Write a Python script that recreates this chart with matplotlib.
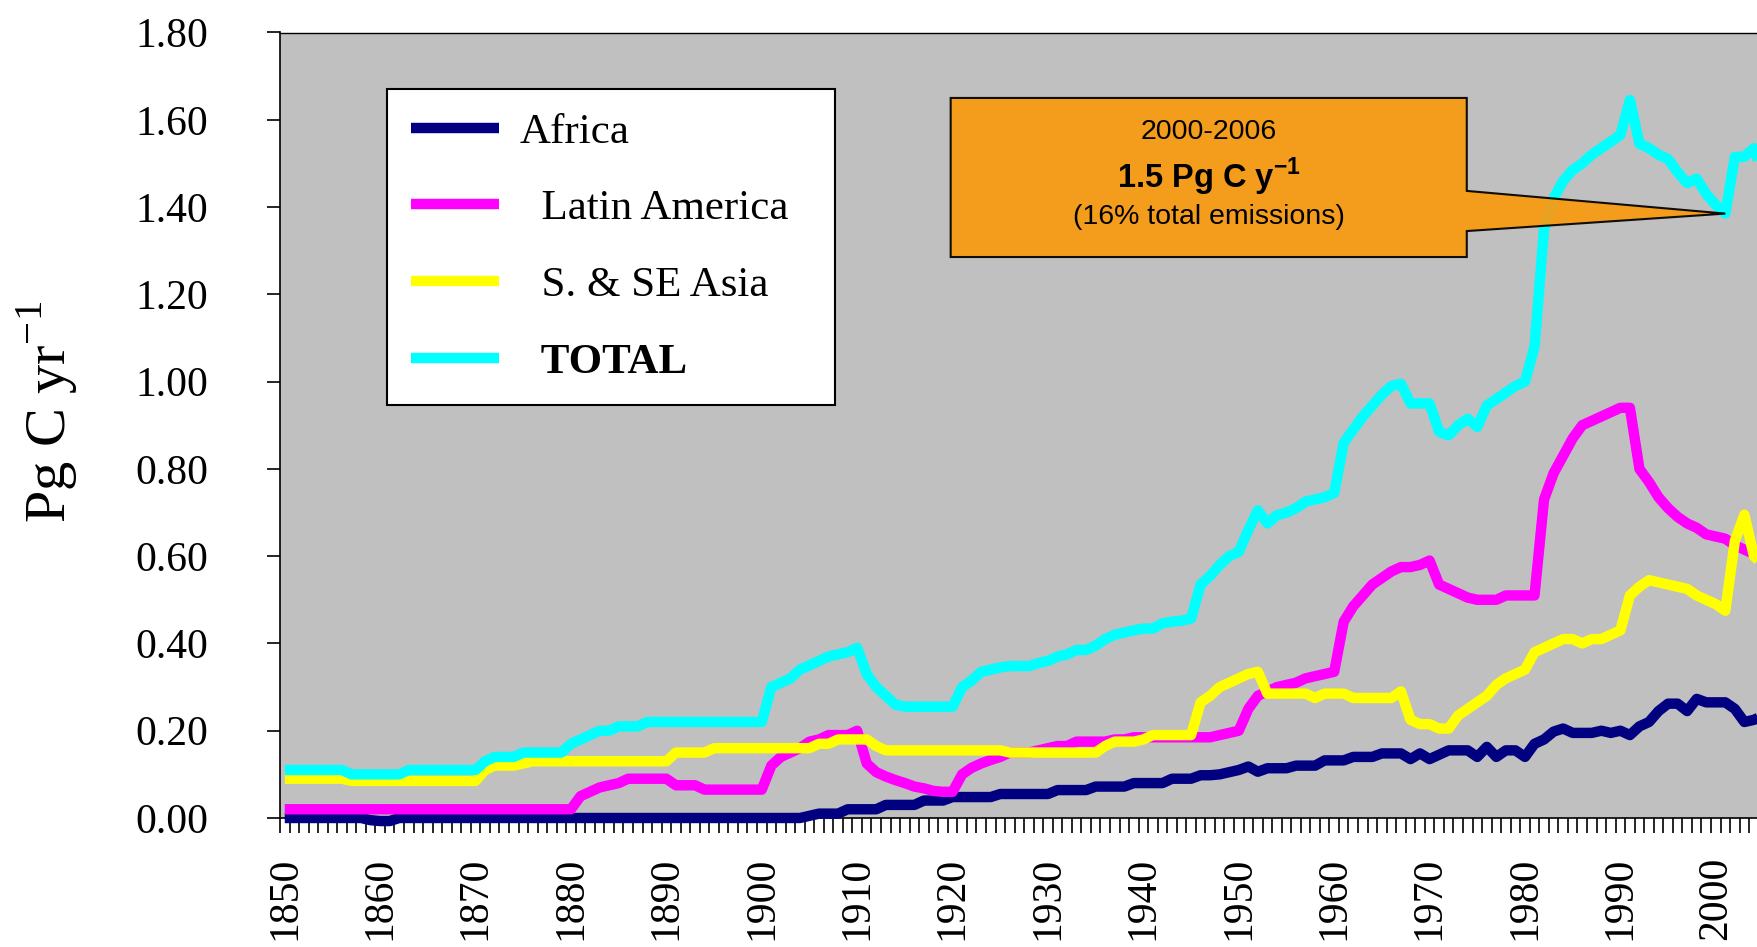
import numpy as np
import matplotlib
matplotlib.use('Agg')
import matplotlib.pyplot as plt
from matplotlib.patches import Polygon

#==============================================================================================
# Data (Pg C / yr, land use change emissions by region) =======================================
#==============================================================================================

years = list(range(1850, 2006))

africa = [
    0, 0, 0, 0, 0, 0, 0, 0, 0, -0.005,                                          # 1850
    -0.007, -0.007, 0, 0, 0, 0, 0, 0, 0, 0,                                     # 1860
    0, 0, 0, 0, 0, 0, 0, 0, 0, 0,                                               # 1870
    0, 0, 0, 0, 0, 0, 0, 0, 0, 0,                                               # 1880
    0, 0, 0, 0, 0, 0, 0, 0, 0, 0,                                               # 1890
    0, 0, 0, 0, 0, 0.005, 0.01, 0.01, 0.01, 0.02,                               # 1900
    0.02, 0.02, 0.02, 0.03, 0.03, 0.03, 0.03, 0.04, 0.04, 0.04,                 # 1910
    0.048, 0.048, 0.048, 0.048, 0.048, 0.055, 0.055, 0.055, 0.055, 0.055,       # 1920
    0.055, 0.064, 0.064, 0.064, 0.064, 0.072, 0.072, 0.072, 0.072, 0.08,        # 1930
    0.08, 0.08, 0.08, 0.09, 0.09, 0.09, 0.098, 0.098, 0.10, 0.105,              # 1940
    0.11, 0.118, 0.106, 0.114, 0.114, 0.114, 0.12, 0.12, 0.12, 0.132,           # 1950
    0.132, 0.132, 0.14, 0.14, 0.14, 0.148, 0.148, 0.148, 0.135, 0.148,          # 1960
    0.135, 0.145, 0.155, 0.155, 0.155, 0.14, 0.163, 0.14, 0.155, 0.155,         # 1970
    0.14, 0.17, 0.18, 0.198, 0.205, 0.195, 0.195, 0.195, 0.20, 0.195,           # 1980
    0.20, 0.19, 0.21, 0.22, 0.245, 0.262, 0.262, 0.245, 0.273, 0.265,           # 1990
    0.265, 0.265, 0.25, 0.22, 0.225, 0.235,                                     # 2000
]

latin_america = [
    0.02, 0.02, 0.02, 0.02, 0.02, 0.02, 0.02, 0.02, 0.02, 0.02,                 # 1850
    0.02, 0.02, 0.02, 0.02, 0.02, 0.02, 0.02, 0.02, 0.02, 0.02,                 # 1860
    0.02, 0.02, 0.02, 0.02, 0.02, 0.02, 0.02, 0.02, 0.02, 0.02,                 # 1870
    0.02, 0.05, 0.06, 0.07, 0.075, 0.08, 0.09, 0.09, 0.09, 0.09,                # 1880
    0.09, 0.075, 0.075, 0.075, 0.065, 0.065, 0.065, 0.065, 0.065, 0.065,        # 1890
    0.065, 0.12, 0.14, 0.15, 0.16, 0.175, 0.18, 0.19, 0.19, 0.19,               # 1900
    0.20, 0.125, 0.105, 0.095, 0.087, 0.08, 0.072, 0.068, 0.062, 0.06,          # 1910
    0.06, 0.10, 0.115, 0.125, 0.133, 0.14, 0.15, 0.15, 0.15, 0.155,             # 1920
    0.16, 0.165, 0.165, 0.175, 0.175, 0.175, 0.175, 0.18, 0.18, 0.185,          # 1930
    0.185, 0.185, 0.185, 0.185, 0.185, 0.185, 0.185, 0.185, 0.19, 0.195,        # 1940
    0.20, 0.25, 0.28, 0.29, 0.30, 0.305, 0.31, 0.32, 0.325, 0.33,               # 1950
    0.335, 0.45, 0.485, 0.51, 0.535, 0.55, 0.565, 0.575, 0.575, 0.58,           # 1960
    0.59, 0.535, 0.525, 0.515, 0.505, 0.50, 0.50, 0.50, 0.51, 0.51,            # 1970
    0.51, 0.51, 0.73, 0.79, 0.83, 0.87, 0.90, 0.91, 0.92, 0.93,                 # 1980
    0.94, 0.94, 0.80, 0.77, 0.735, 0.71, 0.69, 0.675, 0.665, 0.65,              # 1990
    0.645, 0.64, 0.625, 0.615, 0.605, 0.60,                                     # 2000
]

se_asia = [
    0.09, 0.09, 0.09, 0.09, 0.09, 0.09, 0.09, 0.085, 0.085, 0.085,              # 1850
    0.085, 0.085, 0.085, 0.085, 0.085, 0.085, 0.085, 0.085, 0.085, 0.085,       # 1860
    0.085, 0.11, 0.12, 0.12, 0.12, 0.125, 0.13, 0.13, 0.13, 0.13,               # 1870
    0.13, 0.13, 0.13, 0.13, 0.13, 0.13, 0.13, 0.13, 0.13, 0.13,                 # 1880
    0.13, 0.15, 0.15, 0.15, 0.15, 0.16, 0.16, 0.16, 0.16, 0.16,                 # 1890
    0.16, 0.16, 0.16, 0.16, 0.16, 0.16, 0.17, 0.17, 0.18, 0.18,                 # 1900
    0.18, 0.18, 0.165, 0.155, 0.155, 0.155, 0.155, 0.155, 0.155, 0.155,         # 1910
    0.155, 0.155, 0.155, 0.155, 0.155, 0.155, 0.15, 0.15, 0.15, 0.15,           # 1920
    0.15, 0.15, 0.15, 0.15, 0.15, 0.15, 0.165, 0.175, 0.175, 0.175,             # 1930
    0.18, 0.19, 0.19, 0.19, 0.19, 0.19, 0.265, 0.28, 0.30, 0.31,                # 1940
    0.32, 0.33, 0.335, 0.285, 0.285, 0.285, 0.285, 0.285, 0.275, 0.285,         # 1950
    0.285, 0.285, 0.275, 0.275, 0.275, 0.275, 0.275, 0.29, 0.225, 0.215,        # 1960
    0.215, 0.205, 0.205, 0.235, 0.25, 0.265, 0.28, 0.305, 0.32, 0.33,           # 1970
    0.34, 0.38, 0.39, 0.40, 0.41, 0.41, 0.40, 0.41, 0.41, 0.42,                 # 1980
    0.43, 0.51, 0.53, 0.545, 0.54, 0.535, 0.53, 0.525, 0.51, 0.50,              # 1990
    0.49, 0.475, 0.635, 0.695, 0.60, 0.58,                                      # 2000
]

total = [
    0.11, 0.11, 0.11, 0.11, 0.11, 0.11, 0.11, 0.10, 0.10, 0.10,                 # 1850
    0.10, 0.10, 0.10, 0.11, 0.11, 0.11, 0.11, 0.11, 0.11, 0.11,                 # 1860
    0.11, 0.13, 0.14, 0.14, 0.14, 0.15, 0.15, 0.15, 0.15, 0.15,                 # 1870
    0.17, 0.18, 0.19, 0.20, 0.20, 0.21, 0.21, 0.21, 0.22, 0.22,                 # 1880
    0.22, 0.22, 0.22, 0.22, 0.22, 0.22, 0.22, 0.22, 0.22, 0.22,                 # 1890
    0.22, 0.30, 0.31, 0.32, 0.34, 0.35, 0.36, 0.37, 0.375, 0.38,                # 1900
    0.39, 0.33, 0.30, 0.28, 0.26, 0.255, 0.255, 0.255, 0.255, 0.255,            # 1910
    0.255, 0.30, 0.315, 0.335, 0.34, 0.345, 0.348, 0.348, 0.348, 0.355,        # 1920
    0.36, 0.37, 0.375, 0.385, 0.385, 0.395, 0.41, 0.42, 0.425, 0.43,            # 1930
    0.434, 0.434, 0.446, 0.45, 0.452, 0.457, 0.535, 0.555, 0.58, 0.60,          # 1940
    0.61, 0.66, 0.705, 0.675, 0.694, 0.70, 0.71, 0.725, 0.73, 0.735,            # 1950
    0.745, 0.86, 0.89, 0.92, 0.945, 0.97, 0.99, 0.995, 0.95, 0.95,              # 1960
    0.95, 0.885, 0.877, 0.90, 0.915, 0.896, 0.945, 0.96, 0.975, 0.99,           # 1970
    1.00, 1.08, 1.35, 1.42, 1.46, 1.485, 1.50, 1.52, 1.535, 1.55,               # 1980
    1.565, 1.645, 1.545, 1.535, 1.52, 1.51, 1.48, 1.455, 1.465, 1.43,           # 1990
    1.405, 1.385, 1.515, 1.515, 1.535, 1.47,                                    # 2000
]

series_names = ['Africa', '  Latin America', '  S. & SE Asia', '  TOTAL']
series_colors = ['#000080', '#FF00FF', '#FFFF00', '#00FFFF']

decades = list(range(1850, 2001, 10))
y_ticks = [0.0, 0.2, 0.4, 0.6, 0.8, 1.0, 1.2, 1.4, 1.6, 1.8]

callout_year = 2001

#==============================================================================================
# Figure ======================================================================================
#==============================================================================================

plt.rcParams['font.family'] = ['Liberation Serif', 'DejaVu Serif']
narrow = ['Liberation Sans Narrow', 'Liberation Sans', 'DejaVu Sans']

W, H = 1758, 947
fig = plt.figure(figsize=(W / 100, H / 100), dpi=100)

# axes placed in pixels, the right part runs off the picture like the original
px_per_year = 9.54
x_left, x_right = 1849.5, 2006.5
ax = fig.add_axes([280 / W, (H - 818) / H, (x_right - x_left) * px_per_year / W, (818 - 32.5) / H])
ax.set_facecolor('#C0C0C0')

all_series = [africa, latin_america, se_asia, total]
for vals, col, name in zip(all_series, series_colors, series_names):
    ax.plot(years, vals, color=col, lw=7.5, label=name, clip_on=False, zorder=3,
            solid_joinstyle='round', solid_capstyle='butt')

ax.set_xlim(x_left, x_right)
ax.set_ylim(0, 1.8)

# one tick per year between categories, decade labels as minor ticks
ax.set_xticks(np.arange(x_left, x_right, 1.0))
ax.set_xticklabels([])
ax.set_xticks(decades, minor=True)
ax.set_xticklabels([str(d) for d in decades], minor=True)
ax.tick_params(axis='x', which='major', length=11, width=1.2, direction='out', color='black')
ax.tick_params(axis='x', which='minor', length=0, pad=28, labelsize=30, labelrotation=90)

ax.set_yticks(y_ticks)
ax.set_yticklabels(['%.2f' % v for v in y_ticks])
ax.tick_params(axis='y', length=9.4, width=1.2, direction='out', pad=42, labelsize=30)

for side in ['left', 'bottom']:
    ax.spines[side].set_linewidth(1.2)
ax.spines['top'].set_linewidth(1.0)
ax.spines['right'].set_visible(False)

fig.text(47 / W, 1 - 412 / H, 'Pg C yr$^{\\mathregular{-1}}$', rotation=90,
         fontsize=42, ha='center', va='center')

#==============================================================================================
# Legend ======================================================================================
#==============================================================================================

leg = ax.legend(loc='upper left', bbox_to_anchor=(387 / W, (H - 398) / H, 448 / W, 309 / H),
                bbox_transform=fig.transFigure, mode='expand', borderaxespad=0,
                fontsize=31, handlelength=2.05, handletextpad=0.49, borderpad=0.55,
                labelspacing=0.87, fancybox=False, framealpha=1, edgecolor='black')
leg.get_frame().set_linewidth(1.5)
leg.get_texts()[3].set_fontweight('bold')
leg.set_zorder(10)

#==============================================================================================
# Callout =====================================================================================
#==============================================================================================

tip_y = total[years.index(callout_year)]
bx0, bx1 = 1919.8, 1973.9
by0, by1 = 1.2855, 1.650
callout = Polygon([(bx0, by1), (bx1, by1), (bx1, 1.437), (callout_year, tip_y),
                   (bx1, 1.345), (bx1, by0), (bx0, by0)],
                  closed=True, facecolor='#F99B0F', edgecolor='black', lw=1.5,
                  alpha=0.93, zorder=6, joinstyle='miter')
ax.add_patch(callout)

xc = (bx0 + bx1) / 2
ax.text(xc, 1.572, '2000-2006', ha='center', va='center', fontsize=20.5, family=narrow, zorder=7)
ax.text(xc, 1.469, '1.5 Pg C y$^{\\mathregular{-1}}$', ha='center', va='center', fontsize=23.5,
        fontweight='bold', family=narrow, zorder=7)
ax.text(xc, 1.377, '(16% total emissions)', ha='center', va='center', fontsize=20.5,
        family=narrow, zorder=7)

fig.savefig('out.png', dpi=100)
